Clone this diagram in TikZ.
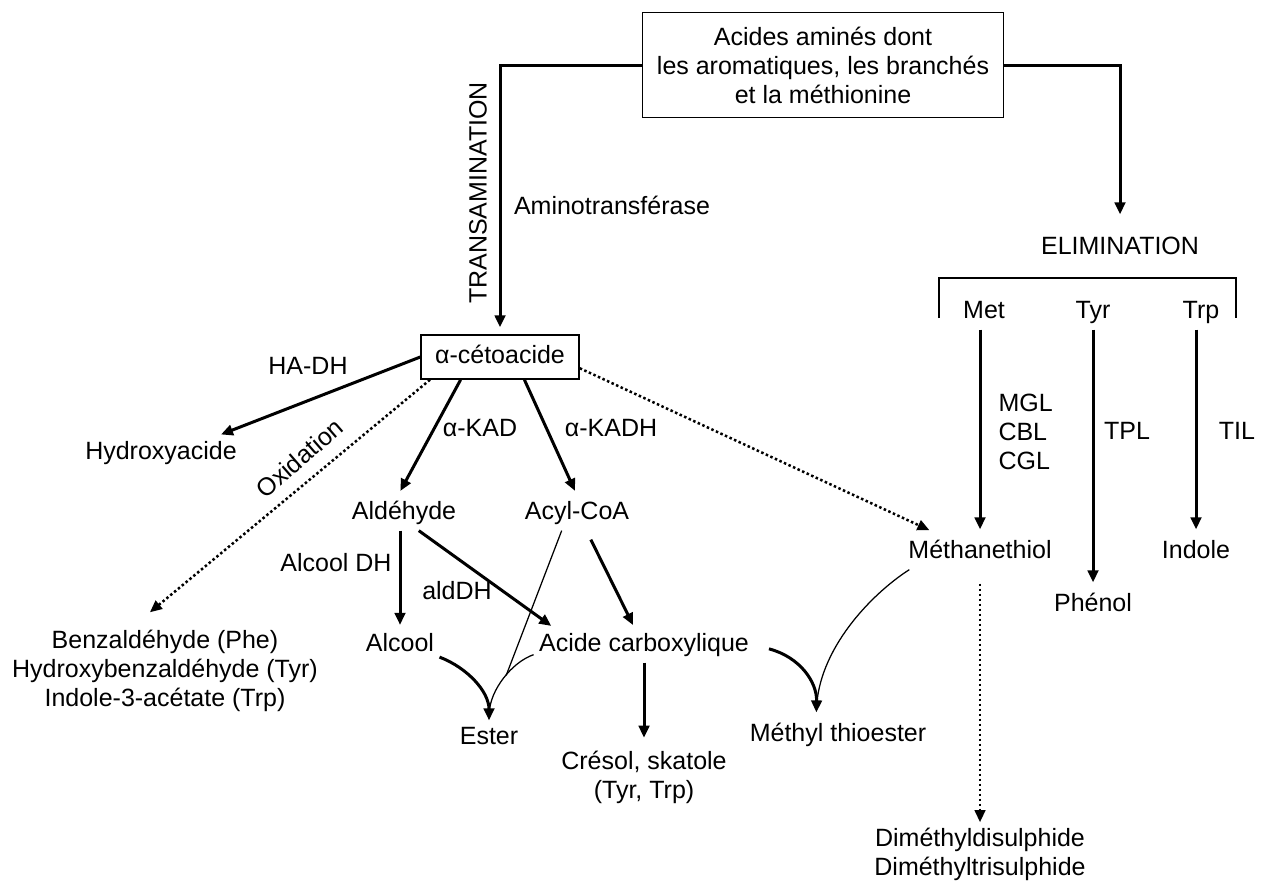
\documentclass[tikz,border=0pt]{standalone}
\usepackage{fontspec}
\setmainfont{Liberation Sans}
\usetikzlibrary{arrows.meta}

\tikzset{
  lbl/.style={inner sep=2pt, text height=0.75em, text depth=0.22em},
  multi/.style={inner sep=2pt, align=center},
  boxed/.style={draw, line width=0.6pt, inner sep=2pt},
  arr/.style={-{Triangle[length=4.8pt,width=4.2pt]}, line width=1.2pt},
  thinline/.style={line width=0.5pt},
  dotline/.style={densely dotted, line width=1pt, -{Triangle[length=4.8pt,width=4.2pt]}},
}

\begin{document}
\begin{tikzpicture}[x=0.4pt, y=-0.4pt, font=\fontsize{10}{11.6}\selectfont]
\useasboundingbox (0,0) rectangle (1263,882);
% start box and the two routes
\node[boxed, minimum width=144.4pt, minimum height=42pt, align=center] (src) at (823,65) {Acides aminés dont\\les aromatiques, les branchés\\et la méthionine};
\node[boxed, lbl, minimum width=63.2pt, minimum height=17.6pt] (keto) at (500,357) {α-cétoacide};
\node[lbl, rotate=90] (trans) at (480,193) {TRANSAMINATION};
\node[lbl] (amino) at (612,208) {Aminotransférase};
\node[lbl] (elim) at (1120,248) {ELIMINATION};
\draw[arr, shorten >=2.8pt] (src.west) -| (keto.north);
\draw[arr, shorten >=6.4pt] (src.east) -| (elim.north);

% elimination branch
\draw[line width=0.6pt] (939,318) |- (1236,278) -- (1236,318);
\node[lbl] (met) at (984,312) {Met};
\node[lbl] (tyr) at (1093,312) {Tyr};
\node[lbl] (trp) at (1201,312) {Trp};
\node[lbl] (meth) at (980,552) {Méthanethiol};
\node[lbl] (phenol) at (1093,605) {Phénol};
\node[lbl] (indole) at (1196,552) {Indole};
\node[inner sep=2pt, align=left, anchor=west] (lyases) at (993,432) {MGL\\CBL\\CGL};
\node[lbl] (tpl) at (1127,433) {TPL};
\node[lbl] (til) at (1237,433) {TIL};
\draw[arr, shorten >=2pt] (met.south -| meth.north) -- (meth.north);
\draw[arr, shorten >=2pt] (tyr.south) -- (phenol.north);
\draw[arr, shorten >=2pt] (trp.south -| indole.north) -- (indole.north);
\node[multi] (dms) at (980,854) {Diméthyldisulphide\\Diméthyltrisulphide};
\draw[dotline, shorten <=5.6pt] (meth.south) -- (dms.north);

% transamination branch
\node[lbl] (hydroxy) at (161,453) {Hydroxyacide};
\node[lbl] (hadh) at (308,368) {HA-DH};
\draw[arr, shorten >=1pt] (keto.west) -- (hydroxy.17);
\node[multi] (benz) at (165,671) {Benzaldéhyde (Phe)\\Hydroxybenzaldéhyde (Tyr)\\Indole-3-acétate (Trp)};
\node[lbl, rotate=41] (oxid) at (301,460) {Oxidation};
\draw[dotline, shorten >=7.8pt] (keto.198) -- (benz.123);
\draw[dotline, shorten >=4pt] (keto.352) -- (meth.157);

\node[lbl] (kad) at (480,430) {α-KAD};
\node[lbl] (kadh) at (611,430) {α-KADH};
\node[lbl] (alde) at (404,513) {Aldéhyde};
\node[lbl] (acyl) at (577,513) {Acyl-CoA};
\draw[arr, shorten >=2pt] (keto.210) -- (alde.109);
\draw[arr, shorten >=2pt] (keto.317) -- (acyl.north);

\node[lbl] (alcdh) at (336,565) {Alcool DH};
\node[lbl] (alddh) at (457,593) {aldDH};
\node[lbl] (alcool) at (400,645) {Alcool};
\node[lbl] (acide) at (644,645) {Acide carboxylique};
\node[lbl] (ester) at (489,738) {Ester};
\node[multi, inner sep=4pt] (cresol) at (644,777) {Crésol, skatole\\(Tyr, Trp)};
\node[lbl] (thioester) at (838,735) {Méthyl thioester};
\draw[arr, shorten >=1pt] (alde.south -| alcool.north) -- (alcool.north);
\draw[arr, shorten >=1pt] (alde.-50) -- (acide.169);
\draw[arr, shorten <=4pt, shorten >=1pt] (acyl.-62) -- (acide.119);
\draw[arr, shorten >=1pt] (acide.south) -- (cresol.north);

% esters
\draw[arr] (alcool.-17) .. controls (468,668) and (489,692) .. (ester.north);
\draw[thinline, shorten >=3pt] (acide.185) .. controls (512,662) and (490,690) .. coordinate[pos=0.45] (join) (ester.north);
\draw[thinline] (acyl.229) -- (join);
\draw[arr, shorten <=6pt, shorten >=2pt] (acide.east) .. controls (800,657) and (817,682) .. (thioester.141);
\draw[thinline, shorten >=3pt] (meth.194) .. controls (870,595) and (818,650) .. (thioester.141);
\end{tikzpicture}
\end{document}
